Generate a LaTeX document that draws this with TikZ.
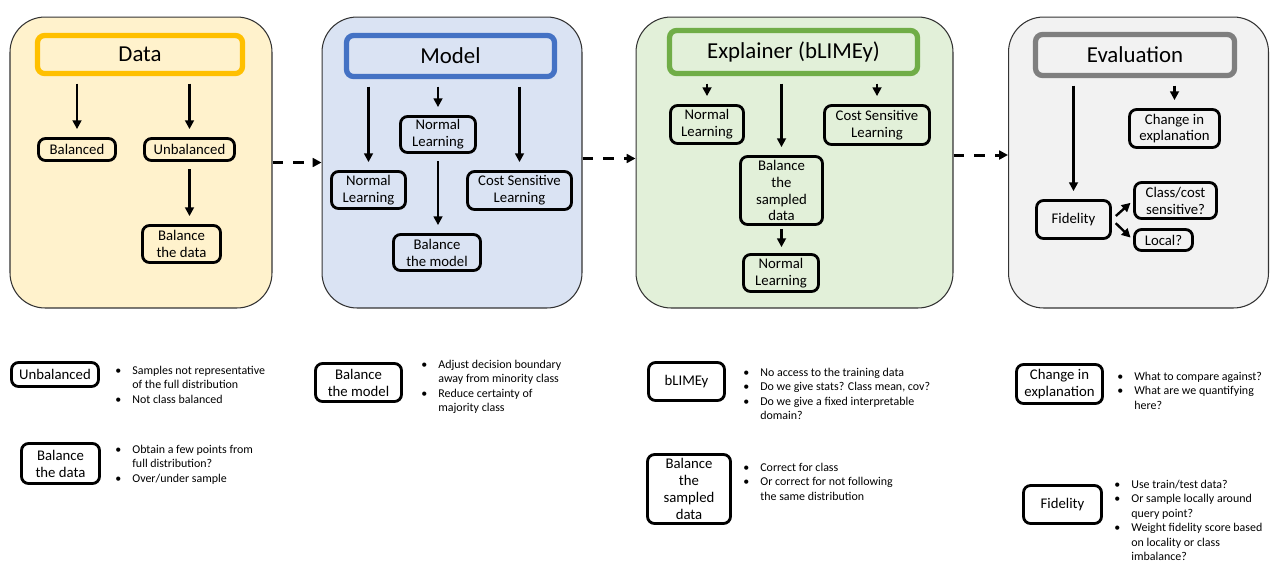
\documentclass[tikz,border=0pt]{standalone}
\usepackage{fontspec}
\setmainfont{Carlito}
\usepackage{xcolor}
\definecolor{datayellow}{RGB}{255, 192, 0}
\definecolor{datafill}{RGB}{255, 242, 204}
\definecolor{modelblue}{RGB}{68, 114, 196}
\definecolor{modelfill}{RGB}{218, 227, 243}
\definecolor{explgreen}{RGB}{112, 173, 71}
\definecolor{explfill}{RGB}{226, 240, 217}
\definecolor{evalgray}{RGB}{127, 127, 127}
\definecolor{evalfill}{RGB}{242, 242, 242}
\usepackage{tikz}
\usetikzlibrary{
    arrows.meta,
    positioning,
    calc
}
\tikzstyle{panel} = [
    rectangle,
    rounded corners=0.7cm,
    draw=black!80,
    line width=0.6pt,
    minimum height=5.82cm
]
\tikzstyle{titlebox} = [
    rectangle,
    rounded corners=4pt,
    line width=3pt,
    font=\fontsize{13}{15}\selectfont
]
\tikzstyle{arrow} = [
    -{Triangle[length=5pt, width=5pt]},
    line width=1.35pt,
    shorten <=0.15cm,
    shorten >=0.16cm
]
\tikzstyle{dasharrow} = [
    -{Triangle[length=5pt, width=5pt]},
    line width=1.7pt,
    dash pattern=on 6.2pt off 5.7pt
]

\begin{document}
\begin{tikzpicture}[
    x=0.02cm, y=-0.02cm,
    smallbox/.style={rectangle, rounded corners=4pt, draw=black, line width=1.6pt, inner sep=1pt, align=center, font=\fontsize{8.4}{9.6}\selectfont},
    notes/.style={anchor=base west, inner sep=0pt, font=\fontsize{6.8}{8.3}\selectfont}
]
    \useasboundingbox (0,0) rectangle (1280,576);

    % Panels
    \node[panel, fill=datafill, minimum width=5.24cm] (data) at (141,162.5) {};
    \node[panel, fill=modelfill, minimum width=5.2cm] (model) at (452,162.5) {};
    \node[panel, fill=explfill, minimum width=6.34cm] (expl) at (794.5,162.5) {};
    \node[panel, fill=evalfill, minimum width=5.2cm] (eval) at (1138.5,162.5) {};

    % Titles
    \node[titlebox, draw=datayellow, fill=datafill, minimum width=4.1cm, minimum height=0.76cm] (datatitle) at (140,54.5) {Data};
    \node[titlebox, draw=modelblue, fill=modelfill, minimum width=4.16cm, minimum height=0.82cm] (modeltitle) at (450.5,56) {Model};
    \node[titlebox, draw=explgreen, fill=explfill, minimum width=4.96cm, minimum height=0.86cm] (expltitle) at (793.5,52) {Explainer (bLIMEy)};
    \node[titlebox, draw=evalgray, fill=evalfill, minimum width=3.98cm, minimum height=0.82cm] (evaltitle) at (1135,55) {Evaluation};

    % Data
    \node[smallbox, minimum width=1.54cm, minimum height=0.44cm] (bal) at (77,149.5) {Balanced};
    \node[smallbox, minimum width=1.8cm, minimum height=0.44cm] (unbal) at (189.5,149.5) {Unbalanced};
    \node[smallbox, minimum width=1.56cm, minimum height=0.74cm] (baldata) at (181.5,244) {Balance\\the data};

    % Model
    \node[smallbox, minimum width=1.5cm, minimum height=0.72cm] (mnormtop) at (438,134.5) {Normal\\Learning};
    \node[smallbox, minimum width=1.48cm, minimum height=0.74cm] (mnormleft) at (368.5,190) {Normal\\Learning};
    \node[smallbox, minimum width=2.08cm, minimum height=0.76cm] (mcost) at (519.5,190.5) {Cost Sensitive\\Learning};
    \node[smallbox, minimum width=1.74cm, minimum height=0.72cm] (balmodel) at (437,252.5) {Balance\\the model};

    % Explainer
    \node[smallbox, minimum width=1.46cm, minimum height=0.76cm] (enorm) at (707,124.5) {Normal\\Learning};
    \node[smallbox, minimum width=2.1cm, minimum height=0.78cm] (ecost) at (877,125) {Cost Sensitive\\Learning};
    \node[smallbox, minimum width=1.64cm, minimum height=1.36cm] (balsampled) at (781.5,190.5) {Balance\\the\\sampled\\data};
    \node[smallbox, minimum width=1.5cm, minimum height=0.74cm] (enormlow) at (781,273) {Normal\\Learning};

    % Evaluation
    \node[smallbox, minimum width=1.8cm, minimum height=0.76cm] (change) at (1174.5,128.5) {Change in\\explanation};
    \node[smallbox, minimum width=1.48cm, minimum height=0.76cm] (fid) at (1073.5,219.5) {Fidelity};
    \node[smallbox, minimum width=1.64cm, minimum height=0.72cm] (classcost) at (1175.5,200.5) {Class/cost\\sensitive?};
    \node[smallbox, minimum width=1.16cm, minimum height=0.42cm] (local) at (1163.5,240) {Local?};

    % Arrows
    \draw[arrow] (datatitle.south -| bal) -- (bal);
    \draw[arrow] (datatitle.south -| unbal) -- (unbal);
    \draw[arrow] (unbal) -- (unbal |- baldata.north);
    \draw[arrow] (modeltitle.south -| mnormleft) -- (mnormleft);
    \draw[arrow] (modeltitle.south -| mnormtop) -- (mnormtop);
    \draw[arrow] (modeltitle.south -| mcost) -- (mcost);
    \draw[arrow] (mnormtop) -- (mnormtop |- balmodel.north);
    \draw[arrow] (expltitle.south -| enorm) -- (enorm);
    \draw[arrow] (expltitle.south -| balsampled) -- (balsampled);
    \draw[arrow] (expltitle.south -| ecost) -- (ecost);
    \draw[arrow, shorten <=0.06cm, shorten >=0.12cm] (balsampled) -- (balsampled |- enormlow.north);
    \draw[arrow] (evaltitle.south -| fid) -- (fid);
    \draw[arrow] (evaltitle.south -| change) -- (change);
    \draw[arrow, shorten <=3pt, shorten >=2pt] (fid.east) -- (classcost.west);
    \draw[arrow, shorten <=3pt, shorten >=2pt] (fid.east) -- (local.west);

    % Stage flow
    \draw[dasharrow] (data) -- (model);
    \draw[dasharrow] ([yshift=0.08cm]model.east) -- ([yshift=0.08cm]expl.west);
    \draw[dasharrow] ([yshift=0.15cm]expl.east) -- ([yshift=0.15cm]eval.west);

    % Notes
    \node[smallbox, fill=white, minimum width=1.74cm, minimum height=0.48cm] (nunbal) at (55,374.5) {Unbalanced};
    \node[notes] (nunbaltext) at (115,374) {\begin{tabular}[t]{@{}p{0.34cm}@{}l@{}}
        \textbullet & Samples not representative\\
         & of the full distribution\\
        \textbullet & Not class balanced
    \end{tabular}};

    \node[smallbox, fill=white, minimum width=1.56cm, minimum height=0.8cm] (nbaldata) at (60.5,463.5) {Balance\\the data};
    \node[notes] (nbaldatatext) at (115,453) {\begin{tabular}[t]{@{}p{0.34cm}@{}l@{}}
        \textbullet & Obtain a few points from\\
         & full distribution?\\
        \textbullet & Over/under sample
    \end{tabular}};

    \node[smallbox, fill=white, minimum width=1.72cm, minimum height=0.76cm] (nbalmodel) at (358.5,382.5) {Balance\\the model};
    \node[notes] (nbalmodeltext) at (421,368) {\begin{tabular}[t]{@{}p{0.34cm}@{}l@{}}
        \textbullet & Adjust decision boundary\\
         & away from minority class\\
        \textbullet & Reduce certainty of\\
         & majority class
    \end{tabular}};

    \node[smallbox, fill=white, minimum width=1.52cm, minimum height=0.76cm] (nblimey) at (686.5,381.5) {bLIMEy};
    \node[notes] (nblimeytext) at (743,376) {\begin{tabular}[t]{@{}p{0.34cm}@{}l@{}}
        \textbullet & No access to the training data\\
        \textbullet & Do we give stats? Class mean, cov?\\
        \textbullet & Do we give a fixed interpretable\\
         & domain?
    \end{tabular}};

    \node[smallbox, fill=white, minimum width=1.66cm, minimum height=1.38cm] (nbalsampled) at (689,489) {Balance\\the\\sampled\\data};
    \node[notes] (nbalsampledtext) at (743,471) {\begin{tabular}[t]{@{}p{0.34cm}@{}l@{}}
        \textbullet & Correct for class\\
        \textbullet & Or correct for not following\\
         & the same distribution
    \end{tabular}};

    \node[smallbox, fill=white, minimum width=1.72cm, minimum height=0.78cm] (nchange) at (1059.5,384) {Change in\\explanation};
    \node[notes] (nchangetext) at (1117,380) {\begin{tabular}[t]{@{}p{0.34cm}@{}l@{}}
        \textbullet & What to compare against?\\
        \textbullet & What are we quantifying\\
         & here?
    \end{tabular}};

    \node[smallbox, fill=white, minimum width=1.56cm, minimum height=0.76cm] (nfid) at (1062.5,504.5) {Fidelity};
    \node[notes] (nfidtext) at (1114,488) {\begin{tabular}[t]{@{}p{0.34cm}@{}l@{}}
        \textbullet & Use train/test data?\\
        \textbullet & Or sample locally around\\
         & query point?\\
        \textbullet & Weight fidelity score based\\
         & on locality or class\\
         & imbalance?
    \end{tabular}};

\end{tikzpicture}
\end{document}
